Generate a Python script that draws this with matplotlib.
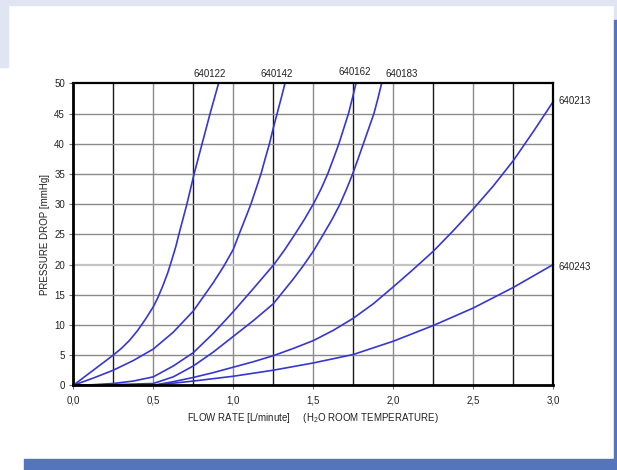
import matplotlib
matplotlib.use('Agg')
import matplotlib.pyplot as plt
from matplotlib.patches import Rectangle

plt.rcParams['font.family'] = ['Liberation Sans', 'DejaVu Sans']
plt.rcParams['mathtext.fontset'] = 'custom'
plt.rcParams['mathtext.rm'] = 'Liberation Sans'

# pressure drop curves (flow L/min, mmHg)
names = ['640122', '640142', '640162', '640183', '640213', '640243']

flow_122 = [0, 0.125, 0.25, 0.3, 0.35, 0.4, 0.45, 0.5, 0.53, 0.56, 0.59, 0.615, 0.64,
            0.66, 0.71, 0.755, 0.805, 0.855, 0.908]
dp_122 = [0, 2.5, 5, 6.1, 7.4, 9.0, 10.9, 13, 14.6, 16.5, 18.6, 20.7, 22.9,
          25, 30, 35, 40, 45, 50]

flow_142 = [0, 0.125, 0.25, 0.375, 0.5, 0.625, 0.75, 0.875, 0.94, 1.0, 1.036, 1.075,
            1.11, 1.143, 1.173, 1.2, 1.226, 1.25, 1.274, 1.3, 1.323]
dp_142 = [0, 1.2, 2.5, 4.1, 6, 8.8, 12.3, 17.0, 19.7, 22.5, 25, 27.6,
          30, 32.6, 35, 37.6, 40, 42.6, 45, 47.6, 50]

flow_162 = [0, 0.125, 0.25, 0.375, 0.5, 0.625, 0.75, 0.875, 1.0, 1.125, 1.254, 1.32,
            1.385, 1.445, 1.5, 1.55, 1.59, 1.627, 1.66, 1.69, 1.72, 1.745, 1.767]
dp_162 = [0, 0.1, 0.3, 0.7, 1.4, 3.2, 5.4, 8.6, 12.2, 16, 20, 22.4,
          25, 27.5, 30, 32.6, 35, 37.6, 40, 42.5, 45, 47.6, 50]

flow_183 = [0, 0.25, 0.5, 0.625, 0.75, 0.875, 1.0, 1.125, 1.25, 1.375, 1.44, 1.5, 1.563,
            1.618, 1.667, 1.708, 1.746, 1.78, 1.813, 1.846, 1.879, 1.904, 1.927]
dp_183 = [0, 0.1, 0.3, 1.4, 3.2, 5.5, 8.1, 10.7, 13.5, 17.6, 19.9, 22.2, 25,
          27.5, 30, 32.5, 35, 37.5, 40, 42.5, 45, 47.5, 50]

flow_213 = [0, 0.5, 0.625, 0.75, 0.875, 1.0, 1.125, 1.25, 1.375, 1.5, 1.625, 1.75, 1.875,
            2.0, 2.125, 2.25, 2.375, 2.5, 2.625, 2.75, 2.875, 3.0]
dp_213 = [0, 0, 0.6, 1.3, 2.1, 3.0, 3.9, 4.9, 6.1, 7.4, 9.1, 11.1, 13.5,
          16.3, 19.2, 22.2, 25.6, 29.2, 33.0, 37.2, 42.0, 47]

flow_243 = [0, 0.5, 0.75, 1.0, 1.25, 1.5, 1.75, 2.0, 2.25, 2.5, 2.75, 3.0]
dp_243 = [0, 0, 0.7, 1.5, 2.5, 3.7, 5.1, 7.3, 9.9, 12.8, 16.2, 20]

flows = [flow_122, flow_142, flow_162, flow_183, flow_213, flow_243]
dps = [dp_122, dp_142, dp_162, dp_183, dp_213, dp_243]

# where the part numbers sit (data coords)
label_x = [0.855, 1.27, 1.76, 2.05, 3.03, 3.03]
label_y = [50.7, 50.7, 51.0, 50.7, 47, 19.6]
label_ha = ['center', 'center', 'center', 'center', 'left', 'left']

x_ticks = [0, 0.5, 1.0, 1.5, 2.0, 2.5, 3.0]
x_tick_labels = ['0,0', '0,5', '1,0', '1,5', '2,0', '2,5', '3,0']
y_ticks = [0, 5, 10, 15, 20, 25, 30, 35, 40, 45, 50]

fig = plt.figure(figsize=(6.17, 4.70), dpi=100)
W, H = 617, 470

def px_rect(x0, y0, x1, y1, color):
    fig.patches.append(Rectangle((x0 / W, 1 - y1 / H), (x1 - x0) / W, (y1 - y0) / H,
                                 transform=fig.transFigure, color=color, zorder=0))

# page decoration
px_rect(0, 0, 617, 5, '#e1e5f3')
px_rect(0, 0, 8, 67, '#e1e5f3')
px_rect(614, 0, 617, 20, '#e1e5f3')
px_rect(614, 20, 617, 470, '#5474bc')
px_rect(24, 459, 617, 470, '#5474bc')

ax = fig.add_axes([73.3 / W, 1 - 385.3 / H, 480 / W, 302 / H])
ax.set_xlim(0, 3.0)
ax.set_ylim(0, 50)

# grid: quarter lines dark, half lines grey
for i in range(1, 12):
    xv = i * 0.25
    if i % 2 == 1:
        ax.axvline(xv, color='#1a1a1a', lw=1.0, zorder=1)
    else:
        ax.axvline(xv, color='#8a8a8a', lw=1.0, zorder=1)
for yv in y_ticks[1:-1]:
    if yv == 20:
        ax.axhline(yv, color='#c4c4c4', lw=1.6, zorder=1)
    else:
        ax.axhline(yv, color='#8a8a8a', lw=1.0, zorder=1)

for fx, dy in zip(flows, dps):
    ax.plot(fx, dy, color='#3636d0', lw=1.2, zorder=3, clip_on=False)

for name, lx, ly, ha in zip(names, label_x, label_y, label_ha):
    ax.text(lx, ly, name, fontsize=7, ha=ha, va='bottom' if ha == 'center' else 'center',
            color='#222222', clip_on=False)

ax.set_xticks(x_ticks)
ax.set_xticklabels(x_tick_labels)
ax.set_yticks(y_ticks)
ax.tick_params(axis='x', direction='out', length=3, width=0.8, color='#707070',
               labelsize=7, pad=4.5, labelcolor='#222222')
ax.tick_params(axis='y', direction='out', length=3, width=0.8, color='#707070',
               labelsize=7, pad=3, labelcolor='#222222')

for side in ['left', 'bottom']:
    ax.spines[side].set_linewidth(2.0)
for side in ['top', 'right']:
    ax.spines[side].set_linewidth(1.6)
for sp in ax.spines.values():
    sp.set_color('black')
    sp.set_zorder(4)

ax.set_ylabel('PRESSURE DROP [mmHg]', fontsize=7, labelpad=3, color='#222222')
ax.set_xlabel('FLOW RATE [L/minute]     (H$_2$O ROOM TEMPERATURE)', fontsize=7,
              labelpad=4, color='#222222')

fig.savefig('out.png', dpi=100)
